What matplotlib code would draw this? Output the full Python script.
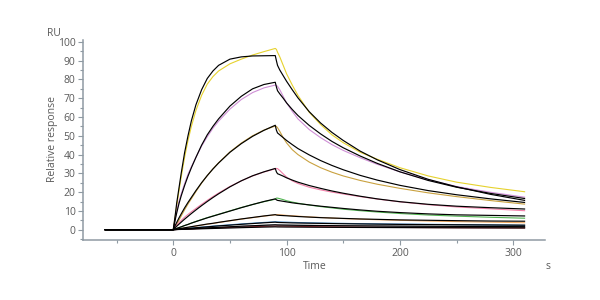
import matplotlib
matplotlib.use("Agg")
import matplotlib.pyplot as plt
from matplotlib.ticker import MultipleLocator

plt.rcParams['font.family'] = ['Open Sans', 'DejaVu Sans']

# time points (s) shared by every curve
t = [-60, 0, 1, 2, 3, 5, 7, 10, 13, 16, 20, 25, 30, 35, 40, 50, 60, 70, 80, 90,
     91, 92, 94, 97, 100, 105, 110, 120, 130, 140, 150, 165, 180, 200, 225, 250, 280, 310]

# fitted curves (black)
fit1 = [0, 0, 4.5, 9, 14, 22, 30, 41, 50, 58, 66.5, 74.5, 80.5, 84.5, 87.5, 90.8, 92, 92.5, 92.6, 92.7,
        90, 87.5, 85, 82, 79, 74.5, 70.2, 62.8, 56.8, 51.8, 47.5, 41.8, 37.2, 32, 26.8, 22.8, 18.8, 15.6]
fit2 = [0, 0, 3, 6, 8.8, 13.8, 18, 23.5, 28.5, 33, 38.5, 45, 50.5, 55, 59, 65.8, 71, 75, 77.3, 78.5,
        76, 74, 72.3, 70, 67.5, 64, 60.8, 55.5, 51, 47, 43.6, 39.2, 35.3, 30.8, 26.2, 22.6, 19.3, 16.6]
fit3 = [0, 0, 1.3, 2.6, 3.8, 6.2, 8.4, 11.6, 14.5, 17.2, 20.8, 25, 28.8, 32.3, 35.5, 41.2, 45.8, 49.7, 52.9, 55.6,
        53, 51.5, 50.5, 49, 47.5, 45.3, 43.2, 39.8, 36.8, 34.2, 31.9, 28.9, 26.4, 23.6, 20.8, 18.6, 16.4, 14.5]
fit4 = [0, 0, 0.6, 1.2, 1.8, 2.9, 4, 5.6, 7.1, 8.6, 10.5, 12.8, 15, 17.1, 19.1, 22.8, 26, 28.7, 30.8, 32.6,
        30.8, 29.8, 29.3, 28.5, 27.6, 26.4, 25.3, 23.5, 22, 20.6, 19.4, 17.8, 16.4, 14.9, 13.5, 12.5, 11.7, 11.0]
fit5 = [0, 0, 0.22, 0.44, 0.66, 1.1, 1.5, 2.2, 2.8, 3.5, 4.3, 5.3, 6.3, 7.2, 8.1, 9.9, 11.7, 13.4, 15, 16.4,
        15.9, 15.6, 15.4, 15.1, 14.8, 14.3, 13.9, 13.2, 12.5, 11.9, 11.3, 10.5, 9.8, 9.1, 8.4, 7.9, 7.6, 7.3]
fit6 = [0, 0, 0.1, 0.2, 0.3, 0.5, 0.7, 1.0, 1.3, 1.6, 2.0, 2.5, 3.0, 3.4, 3.9, 4.8, 5.7, 6.5, 7.3, 8.0,
        7.8, 7.7, 7.6, 7.5, 7.4, 7.2, 7.0, 6.7, 6.4, 6.2, 6.0, 5.7, 5.5, 5.2, 5.0, 4.8, 4.6, 4.5]
fit7 = [0, 0, 0.05, 0.1, 0.15, 0.25, 0.35, 0.5, 0.65, 0.8, 1.0, 1.25, 1.5, 1.75, 2.0, 2.4, 2.85, 3.25, 3.65, 4.0,
        3.9, 3.85, 3.8, 3.75, 3.7, 3.6, 3.55, 3.45, 3.35, 3.25, 3.15, 3.05, 2.95, 2.8, 2.7, 2.6, 2.5, 2.4]
fit8 = [0, 0, 0.03, 0.06, 0.1, 0.16, 0.22, 0.32, 0.42, 0.52, 0.65, 0.8, 0.95, 1.1, 1.25, 1.55, 1.85, 2.1, 2.35, 2.6,
        2.55, 2.5, 2.48, 2.45, 2.42, 2.38, 2.34, 2.28, 2.22, 2.16, 2.1, 2.04, 1.98, 1.9, 1.82, 1.75, 1.68, 1.6]
fit9 = [0, 0, 0.02, 0.04, 0.06, 0.1, 0.13, 0.19, 0.25, 0.3, 0.38, 0.47, 0.55, 0.64, 0.72, 0.9, 1.07, 1.22, 1.37, 1.5,
        1.48, 1.45, 1.44, 1.42, 1.4, 1.38, 1.36, 1.32, 1.29, 1.25, 1.22, 1.18, 1.15, 1.1, 1.06, 1.02, 0.98, 0.94]

# measured curves (coloured)
dat1 = [0, 0, 4, 8, 12.5, 20.5, 28, 38.5, 47.5, 55, 63.5, 71.5, 77.5, 81.5, 84.5, 88.3, 90.8, 93, 94.8, 96.5,
        96, 94.5, 92, 87.5, 83, 77, 71.5, 62.5, 56, 50.5, 46.3, 41.2, 37.5, 33, 28.6, 25.3, 22.5, 20.2]
dat2 = [0, 0, 3.5, 6.8, 9.8, 15, 19, 24.5, 29.5, 33.5, 38.5, 44.5, 49.5, 54, 57.8, 64.2, 69.3, 73, 75.5, 77,
        76.8, 76.3, 74.5, 71, 67.5, 63, 59, 53.3, 49, 45.3, 42.2, 38.3, 34.8, 30.8, 26.5, 23, 19.9, 17.3]
dat3 = [0, 0, 0.8, 1.8, 2.9, 5, 7.3, 10.6, 13.7, 16.5, 20.3, 24.8, 28.8, 32.4, 35.6, 41.4, 46.1, 50, 53, 55.2,
        55, 54.3, 52.3, 49, 46.2, 42.6, 40, 36, 33, 30.6, 28.6, 26.2, 24.2, 22, 19.6, 17.6, 15.5, 13.6]
dat4 = [0, 0, 0.9, 1.7, 2.4, 3.7, 4.9, 6.6, 8.1, 9.5, 11.3, 13.5, 15.6, 17.6, 19.5, 23, 26, 28.6, 30.7, 32.4,
        32.6, 32.5, 31.5, 29.7, 28, 26, 24.6, 22.6, 21.2, 20, 19, 17.6, 16.3, 14.8, 13.3, 12.1, 11.1, 10.1]
dat5 = [0, 0, 0.25, 0.5, 0.7, 1.1, 1.5, 2.2, 2.8, 3.5, 4.4, 5.4, 6.4, 7.3, 8.2, 10, 11.8, 13.4, 14.9, 16.2,
        16.8, 16.8, 16.5, 16, 15.4, 14.7, 14.1, 13.1, 12.3, 11.6, 10.9, 10.1, 9.4, 8.6, 7.8, 7.2, 6.6, 6.1]
dat6 = [0, 0, 0.05, 0.15, 0.25, 0.4, 0.6, 0.9, 1.2, 1.5, 1.9, 2.4, 2.9, 3.3, 3.8, 4.7, 5.6, 6.4, 7.2, 7.9,
        8.0, 8.0, 7.9, 7.8, 7.6, 7.4, 7.2, 6.8, 6.5, 6.2, 5.9, 5.6, 5.3, 5.0, 4.6, 4.3, 4.0, 3.7]
dat7 = [0, 0, 0.05, 0.1, 0.16, 0.27, 0.38, 0.54, 0.7, 0.86, 1.08, 1.35, 1.62, 1.9, 2.15, 2.6, 3.05, 3.45, 3.85, 4.2,
        4.2, 4.15, 4.1, 4.05, 4.0, 3.9, 3.8, 3.65, 3.55, 3.45, 3.35, 3.2, 3.1, 3.0, 2.85, 2.7, 2.5, 2.3]
dat8 = [0, 0, 0.03, 0.06, 0.09, 0.15, 0.21, 0.3, 0.4, 0.5, 0.62, 0.78, 0.93, 1.08, 1.22, 1.5, 1.8, 2.05, 2.3, 2.5,
        2.55, 2.55, 2.5, 2.46, 2.42, 2.36, 2.3, 2.22, 2.15, 2.08, 2.0, 1.92, 1.85, 1.76, 1.68, 1.6, 1.5, 1.4]
dat9 = [0, 0, 0.02, 0.05, 0.08, 0.13, 0.18, 0.26, 0.34, 0.42, 0.52, 0.64, 0.76, 0.88, 1.0, 1.22, 1.42, 1.6, 1.76, 1.9,
        1.95, 1.95, 1.92, 1.9, 1.86, 1.8, 1.75, 1.66, 1.58, 1.5, 1.44, 1.36, 1.28, 1.2, 1.1, 1.02, 0.96, 0.9]

fits = [fit1, fit2, fit3, fit4, fit5, fit6, fit7, fit8, fit9]
data = [dat1, dat2, dat3, dat4, dat5, dat6, dat7, dat8, dat9]
colors = ['#e6d22e', '#cf8fd6', '#c9a13f', '#f27fa8', '#52b552',
          '#f0a860', '#3d85c6', '#8d9aa6', '#a02830']

TXT = '#5a5a5a'
AX = '#8f9aa3'

fig = plt.figure(figsize=(6, 3), dpi=100)
ax = fig.add_axes([0.1388, 0.2, 0.7695, 0.6667])

for d, c in zip(data, colors):
    ax.plot(t, d, color=c, lw=0.8)
for f in fits:
    ax.plot(t, f, color='black', lw=0.85)

ax.set_xlim(-79.4, 328)
ax.set_ylim(-5.5, 101)

ax.set_xticks([0, 100, 200, 300])
ax.xaxis.set_minor_locator(MultipleLocator(50))
ax.set_yticks(range(0, 101, 10))
ax.yaxis.set_minor_locator(MultipleLocator(5))

for s in ['top', 'right']:
    ax.spines[s].set_visible(False)
for s in ['left', 'bottom']:
    ax.spines[s].set_color(AX)
    ax.spines[s].set_linewidth(1.1)

ax.tick_params(which='both', direction='out', color=AX, labelcolor=TXT,
               labelsize=7.5, width=0.8)
ax.tick_params(which='major', length=3.5, pad=2)
ax.tick_params(which='minor', length=2.5)

fig.text(0.0905, 0.889, 'RU', color=TXT, fontsize=7.5, ha='center', va='center')
fig.text(0.087, 0.537, 'Relative response', color=TXT, fontsize=7.5,
         rotation=90, ha='center', va='center')
fig.text(0.525, 0.112, 'Time', color=TXT, fontsize=7.5, ha='center', va='center')
fig.text(0.913, 0.111, 's', color=TXT, fontsize=7.5, ha='center', va='center')

fig.savefig('out.png', dpi=100)
